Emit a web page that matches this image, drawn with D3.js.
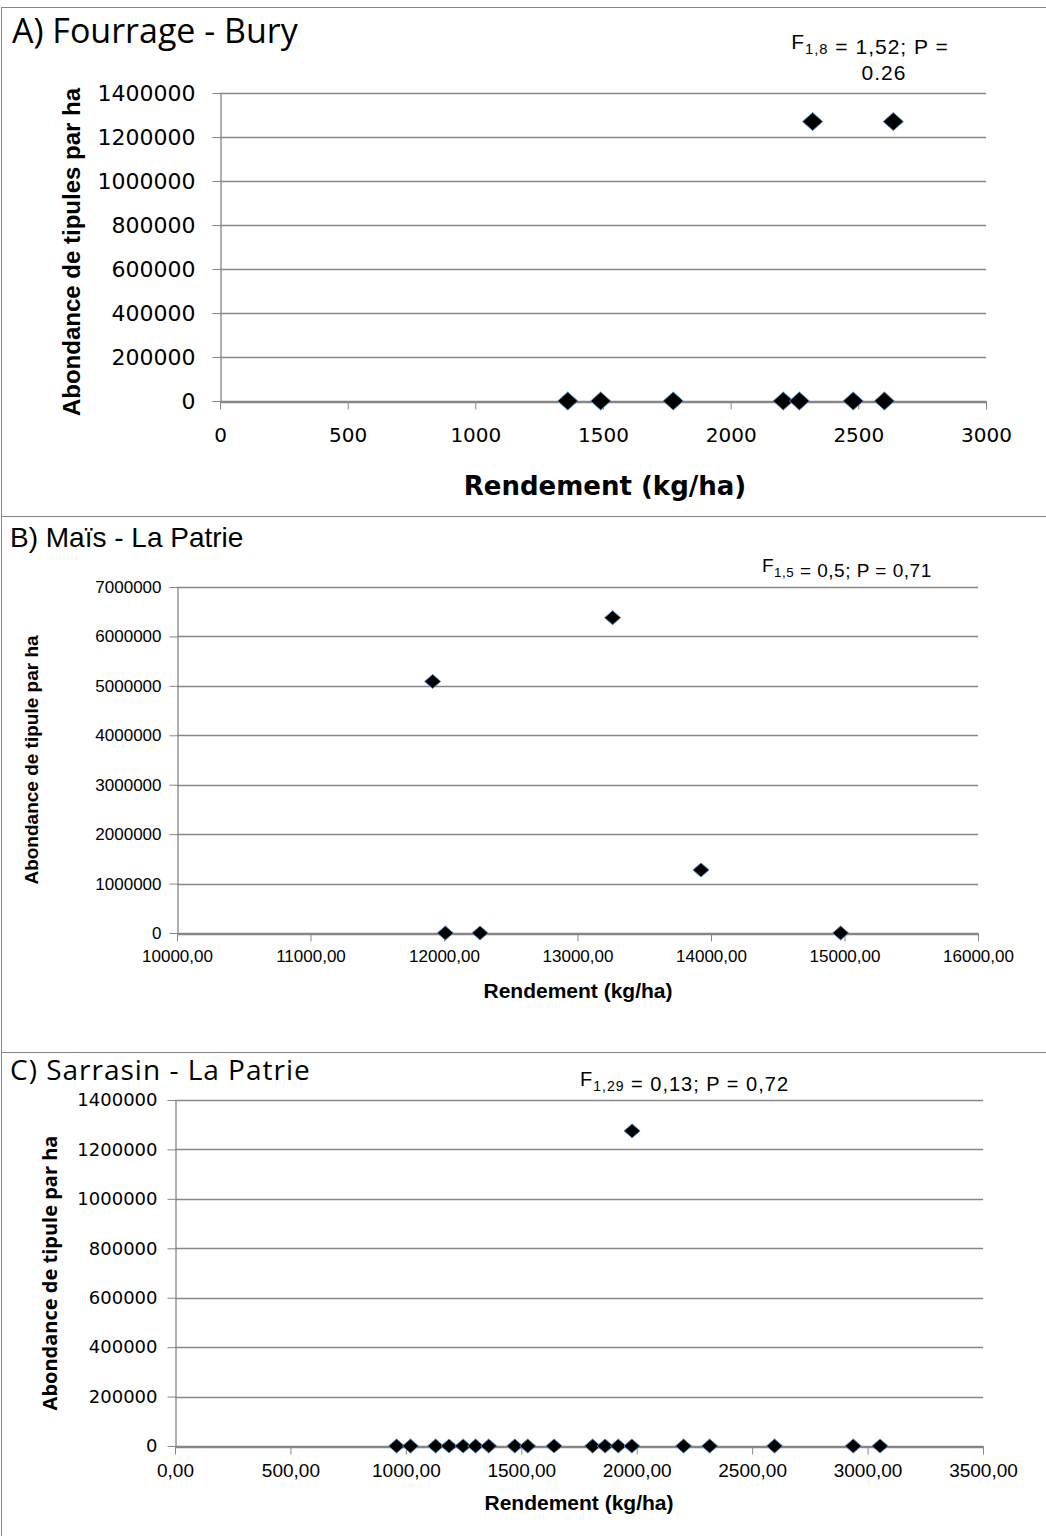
<!DOCTYPE html>
<html>
<head>
<meta charset="utf-8">
<script src="https://cdn.jsdelivr.net/npm/d3@7"></script>
<style>
  body { margin: 0; background: #fff; }
  svg { display: block; }
  .tick line { stroke: #868686; }
</style>
</head>
<body>
<div id="chart"></div>
<script>
// --- data ---
const yieldA = [1362, 1491, 1775, 2206, 2269, 2480, 2602, 2321, 2637];
const abundA = [0, 0, 0, 0, 0, 0, 0, 1270000, 1270000];

const yieldB = [11915, 13263, 12010, 12270, 13925, 14971];
const abundB = [5090000, 6380000, 0, 0, 1275000, 0];

const yieldC = [960, 1020, 1129, 1187, 1248, 1302, 1359, 1472, 1528, 1642,
                1809, 1863, 1920, 1979, 2203, 2316, 2597, 2938, 3054, 1980];
const abundC = [0, 0, 0, 0, 0, 0, 0, 0, 0, 0,
                0, 0, 0, 0, 0, 0, 0, 0, 0, 1275000];

const ticksA_x = [0, 500, 1000, 1500, 2000, 2500, 3000];
const ticksA_y = [0, 200000, 400000, 600000, 800000, 1000000, 1200000, 1400000];
const ticksB_x = [10000, 11000, 12000, 13000, 14000, 15000, 16000];
const ticksB_y = [0, 1000000, 2000000, 3000000, 4000000, 5000000, 6000000, 7000000];
const ticksC_x = [0, 500, 1000, 1500, 2000, 2500, 3000, 3500];
const ticksC_y = ticksA_y;

const width = 1046, height = 1536;
const grey = '#868686';
const narrow = '"Liberation Sans Narrow", "Liberation Sans", Arial, sans-serif';
const wide = '"DejaVu Sans", Verdana, sans-serif';
const open = '"Open Sans", sans-serif';

const svg = d3.select('#chart').append('svg')
  .attr('width', width).attr('height', height);

const comma2 = (v) => d3.format('.2f')(v).replace('.', ',');

function drawPanel(p) {
  const g = svg.append('g');

  // panel frame
  g.append('rect')
    .attr('x', 1.5).attr('y', p.box[0] + 0.5)
    .attr('width', width + 10).attr('height', p.box[1] - p.box[0])
    .attr('fill', 'none').attr('stroke', grey);

  const x = d3.scaleLinear().domain(p.xDomain).range([p.plot.left, p.plot.right]);
  const y = d3.scaleLinear().domain(p.yDomain).range([p.plot.bottom, p.plot.top]);

  // horizontal grid
  g.append('g').selectAll('line').data(p.yTicks.slice(1)).join('line')
    .attr('x1', p.plot.left).attr('x2', p.plot.right)
    .attr('y1', (d) => Math.round(y(d)) + 0.5).attr('y2', (d) => Math.round(y(d)) + 0.5)
    .attr('stroke', grey).attr('stroke-width', 1.3);

  // y axis
  g.append('g')
    .attr('transform', `translate(${p.plot.left + 0.5},0)`)
    .call(d3.axisLeft(y).tickValues(p.yTicks).tickFormat(d3.format('d'))
      .tickSize(8).tickPadding(p.yPad).tickSizeOuter(0))
    .call((a) => a.select('.domain').attr('stroke', grey).attr('stroke-width', 1.3))
    .call((a) => a.selectAll('text').attr('fill', '#000')
      .style('font-family', p.yFont).style('font-size', p.yFontSize + 'px'));

  // x axis
  g.append('g')
    .attr('transform', `translate(0,${Math.round(y(0)) + 0.5})`)
    .call(d3.axisBottom(x).tickValues(p.xTicks).tickFormat(p.xFormat)
      .tickSize(8).tickPadding(p.xPad).tickSizeOuter(0))
    .call((a) => a.select('.domain').attr('stroke', grey).attr('stroke-width', 2.5))
    .call((a) => a.selectAll('text').attr('fill', '#000')
      .style('font-family', p.xFont).style('font-size', p.xFontSize + 'px'));

  // points
  const pts = p.xs.map((v, i) => [v, p.ys[i]]);
  const hw = p.marker[0], hh = p.marker[1];
  g.append('g').selectAll('path').data(pts).join('path')
    .attr('d', `M0,${-hh}L${hw},0L0,${hh}L${-hw},0Z`)
    .attr('transform', (d) => `translate(${x(d[0])},${y(d[1])})`)
    .attr('fill', '#000').attr('stroke', '#4f81bd').attr('stroke-width', 1);

  // panel title
  g.append('text')
    .attr('x', p.title.x).attr('y', p.title.y)
    .style('font-family', p.title.font).style('font-size', p.title.size + 'px')
    .style('letter-spacing', (p.title.spacing || 0) + 'px')
    .text(p.title.text);

  // statistics note
  p.note.lines.forEach((ln) => {
    const t = g.append('text')
      .attr('x', ln.x).attr('y', ln.y)
      .attr('text-anchor', ln.anchor || 'start')
      .style('font-family', narrow).style('font-size', p.note.size + 'px')
      .style('letter-spacing', (p.note.spacing || 0) + 'px');
    ln.parts.forEach((part) => {
      if (part.sub) {
        t.append('tspan').attr('dy', p.note.size * 0.25)
          .style('font-size', (p.note.size * 0.7) + 'px').text(part.sub);
        t.append('tspan').attr('dy', -p.note.size * 0.25).text('');
      } else {
        t.append('tspan').text(part.t);
      }
    });
  });

  // axis titles
  g.append('text')
    .attr('transform', `translate(${p.yTitle.x},${p.yTitle.cy}) rotate(-90)`)
    .attr('text-anchor', 'middle')
    .style('font-family', p.yTitle.font).style('font-weight', 'bold')
    .style('font-size', p.yTitle.size + 'px')
    .text(p.yTitle.text);

  g.append('text')
    .attr('x', p.xTitle.cx).attr('y', p.xTitle.y)
    .attr('text-anchor', 'middle')
    .style('font-family', p.xTitle.font).style('font-weight', 'bold')
    .style('font-size', p.xTitle.size + 'px')
    .text(p.xTitle.text);
}

drawPanel({
  box: [7, 516],
  plot: {left: 220, right: 986, top: 93, bottom: 401},
  xDomain: [0, 3000], yDomain: [0, 1400000],
  xTicks: ticksA_x, yTicks: ticksA_y,
  xFormat: d3.format('d'),
  xs: yieldA, ys: abundA,
  marker: [10, 9],
  yFont: wide, yFontSize: 22, yPad: 17,
  xFont: wide, xFontSize: 20, xPad: 18,
  title: {x: 12, y: 43, text: 'A) Fourrage - Bury', font: open, size: 34},
  note: {size: 21, spacing: 1, lines: [
    {x: 870, y: 49, anchor: 'middle', parts: [{t: 'F'}, {sub: '1,8'}, {t: ' = 1,52; P ='}]},
    {x: 884, y: 80, anchor: 'middle', parts: [{t: '0.26'}]}
  ]},
  yTitle: {x: 80, cy: 252, text: 'Abondance de tipules par ha', font: narrow, size: 24},
  xTitle: {cx: 605, y: 495, text: 'Rendement (kg/ha)', font: wide, size: 26}
});

drawPanel({
  box: [516, 1052],
  plot: {left: 177, right: 978, top: 587, bottom: 933},
  xDomain: [10000, 16000], yDomain: [0, 7000000],
  xTicks: ticksB_x, yTicks: ticksB_y,
  xFormat: comma2,
  xs: yieldB, ys: abundB,
  marker: [8, 7],
  yFont: narrow, yFontSize: 17, yPad: 8,
  xFont: narrow, xFontSize: 17, xPad: 8,
  title: {x: 10, y: 547, text: 'B) Maïs - La Patrie', font: narrow, size: 28},
  note: {size: 19, spacing: 0.5, lines: [
    {x: 762, y: 572, parts: [{t: 'F'}, {sub: '1,5'}, {t: ' = 0,5; P = 0,71'}]}
  ]},
  yTitle: {x: 38, cy: 760, text: 'Abondance de tipule par ha', font: narrow, size: 19},
  xTitle: {cx: 578, y: 998, text: 'Rendement (kg/ha)', font: narrow, size: 21}
});

drawPanel({
  box: [1052, 1545],
  plot: {left: 175, right: 983, top: 1100, bottom: 1446},
  xDomain: [0, 3500], yDomain: [0, 1400000],
  xTicks: ticksC_x, yTicks: ticksC_y,
  xFormat: comma2,
  xs: yieldC, ys: abundC,
  marker: [8, 7],
  yFont: wide, yFontSize: 18, yPad: 10,
  xFont: narrow, xFontSize: 19, xPad: 9,
  title: {x: 10, y: 1080, text: 'C) Sarrasin - La Patrie', font: open, size: 28, spacing: 1},
  note: {size: 20, spacing: 1, lines: [
    {x: 580, y: 1086, parts: [{t: 'F'}, {sub: '1,29'}, {t: ' = 0,13; P = 0,72'}]}
  ]},
  yTitle: {x: 57, cy: 1273, text: 'Abondance de tipule par ha', font: open, size: 20},
  xTitle: {cx: 579, y: 1510, text: 'Rendement (kg/ha)', font: narrow, size: 21}
});
</script>
</body>
</html>
